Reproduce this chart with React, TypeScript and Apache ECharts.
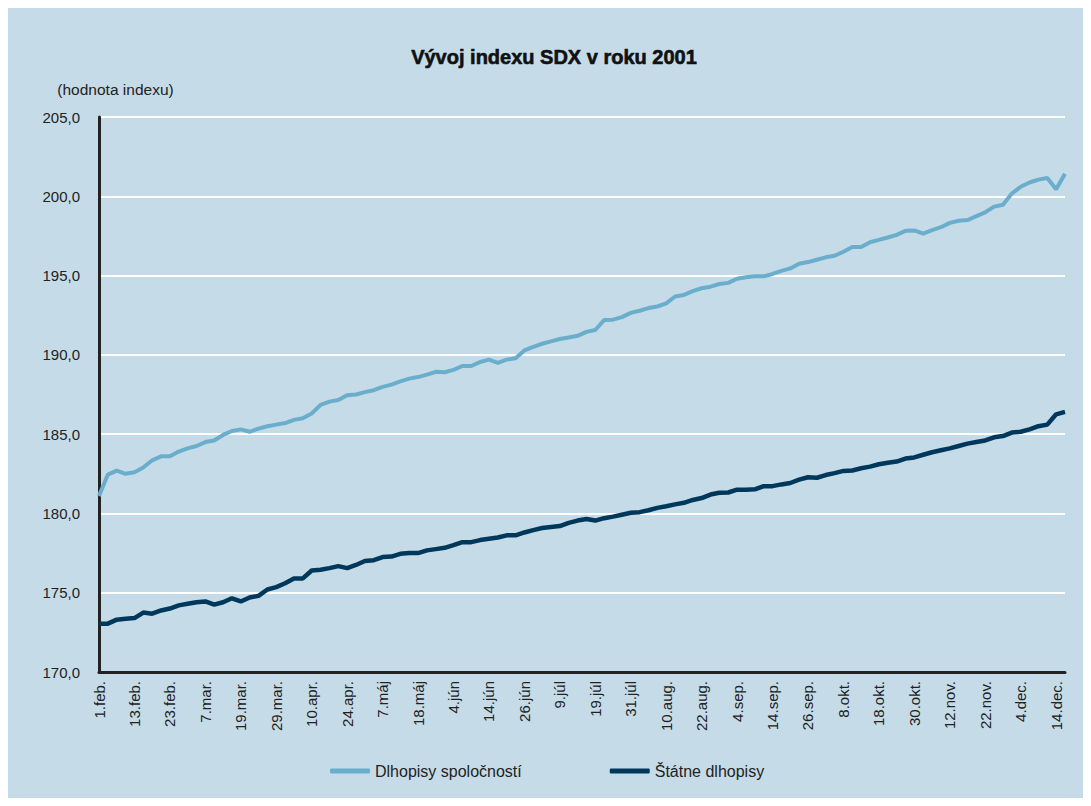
import React, { useEffect, useRef } from "react";
import * as echarts from "echarts";

const tickLabels = [
  "1.feb.", "13.feb.", "23.feb.", "7.mar.", "19.mar.", "29.mar.", "10.apr.",
  "24.apr.", "7.máj", "18.máj", "4.jún", "14.jún", "26.jún", "9.júl",
  "19.júl", "31.júl", "10.aug.", "22.aug.", "4.sep.", "14.sep.", "26.sep.",
  "8.okt.", "18.okt.", "30.okt.", "12.nov.", "22.nov.", "4.dec.", "14.dec.",
];

const corporate = [
  181.1, 182.45, 182.7, 182.5, 182.6, 182.9, 183.35, 183.6, 183.6, 183.9,
  184.1, 184.25, 184.5, 184.6, 184.95, 185.2, 185.3, 185.15, 185.35, 185.5,
  185.6, 185.7, 185.9, 186.0, 186.3, 186.85, 187.05, 187.15, 187.45, 187.5,
  187.65, 187.77, 187.98, 188.12, 188.33, 188.5, 188.6, 188.75, 188.93, 188.9,
  189.05, 189.3, 189.3, 189.55, 189.7, 189.5, 189.7, 189.78, 190.28, 190.5,
  190.7, 190.85, 191.0, 191.1, 191.2, 191.45, 191.57, 192.2, 192.22, 192.38,
  192.65, 192.78, 192.95, 193.05, 193.25, 193.68, 193.78, 194.02, 194.2, 194.3,
  194.47, 194.54, 194.8, 194.9, 194.95, 194.95, 195.1, 195.3, 195.45, 195.75,
  195.85, 196.0, 196.15, 196.25, 196.5, 196.8, 196.8, 197.1, 197.25, 197.4,
  197.57, 197.82, 197.85, 197.65, 197.87, 198.05, 198.32, 198.46, 198.5, 198.75,
  198.99, 199.35, 199.47, 200.17, 200.6, 200.87, 201.05, 201.15, 200.45, 201.42,
];

const government = [
  173.05, 173.05, 173.3, 173.36, 173.4, 173.75, 173.68, 173.88, 174.0, 174.2,
  174.3, 174.4, 174.45, 174.25, 174.4, 174.65, 174.45, 174.7, 174.8, 175.2,
  175.35, 175.6, 175.9, 175.9, 176.4, 176.45, 176.55, 176.68, 176.55, 176.75,
  177.0, 177.05, 177.25, 177.28, 177.45, 177.5, 177.5, 177.67, 177.75, 177.83,
  178.0, 178.19, 178.19, 178.32, 178.4, 178.48, 178.62, 178.62, 178.8, 178.95,
  179.08, 179.15, 179.2, 179.4, 179.55, 179.65, 179.55, 179.7, 179.8, 179.92,
  180.04, 180.08, 180.2, 180.35, 180.45, 180.57, 180.67, 180.85, 180.97, 181.19,
  181.3, 181.32, 181.5, 181.5, 181.52, 181.72, 181.72, 181.83, 181.92, 182.13,
  182.28, 182.25, 182.42, 182.54, 182.68, 182.71, 182.85, 182.95, 183.1, 183.2,
  183.27, 183.46, 183.53, 183.7, 183.86, 183.98, 184.1, 184.25, 184.4, 184.5,
  184.6, 184.8, 184.88, 185.1, 185.15, 185.3, 185.5, 185.6, 186.25, 186.4,
];

const seriesNames = ["Dlhopisy spoločností", "Štátne dlhopisy"];
const STEP = 4;

export default function App() {
  const ref = useRef<HTMLDivElement>(null);

  useEffect(() => {
    if (!ref.current) return;
    const chart = echarts.init(ref.current, null, { renderer: "svg" });
    const categories = corporate.map((_, i) =>
      i % STEP === 0 && tickLabels[i / STEP] ? tickLabels[i / STEP] : `d${i}`
    );
    const font = "Liberation Sans, Arial, sans-serif";
    chart.setOption({
      animation: false,
      backgroundColor: "#c5dce8",
      textStyle: { fontFamily: font, color: "#222" },
      graphic: [
        {
          type: "text",
          x: 546,
          y: 49,
          style: {
            text: "Vývoj indexu SDX v roku 2001",
            font: `bold 20px ${font}`,
            fill: "#111",
            stroke: "#111",
            lineWidth: 0.6,
            align: "center",
            verticalAlign: "middle",
          },
        },
        {
          type: "text",
          x: 107.5,
          y: 81,
          style: {
            text: "(hodnota indexu)",
            font: `15.5px ${font}`,
            fill: "#222",
            align: "center",
            verticalAlign: "middle",
          },
        },
      ],
      legend: {
        left: 317,
        top: 750,
        itemGap: 88,
        itemWidth: 40,
        itemHeight: 5,
        icon: "roundRect",
        textStyle: { fontSize: 16, color: "#222", fontFamily: font },
        data: seriesNames,
      },
      grid: { left: 91, right: 18, top: 109, bottom: 126 },
      xAxis: {
        type: "category",
        data: categories,
        boundaryGap: false,
        axisLine: { lineStyle: { color: "#222", width: 3 } },
        axisTick: { show: false },
        axisLabel: {
          interval: STEP - 1,
          rotate: 90,
          margin: 9,
          fontSize: 15,
          color: "#222",
          fontFamily: font,
          formatter: (v: string) => (tickLabels.includes(v) ? v : ""),
        },
        splitLine: { show: false },
      },
      yAxis: {
        type: "value",
        min: 170,
        max: 205,
        interval: 5,
        axisLine: { show: true, lineStyle: { color: "#222", width: 3 } },
        axisTick: { show: false },
        axisLabel: {
          margin: 19,
          fontSize: 15,
          color: "#222",
          fontFamily: font,
          formatter: (v: number) => v.toFixed(1).replace(".", ","),
        },
        splitLine: { lineStyle: { color: "#ffffff", width: 2 } },
      },
      series: [
        {
          name: seriesNames[0],
          type: "line",
          data: corporate,
          showSymbol: false,
          symbol: "none",
          lineStyle: { color: "#6aaecc", width: 4 },
          itemStyle: { color: "#6aaecc" },
        },
        {
          name: seriesNames[1],
          type: "line",
          data: government,
          showSymbol: false,
          symbol: "none",
          lineStyle: { color: "#00385c", width: 4.5 },
          itemStyle: { color: "#00385c" },
        },
      ],
    });
    return () => chart.dispose();
  }, []);

  return <div ref={ref} style={{ width: 1075, height: 790 }} />;
}
